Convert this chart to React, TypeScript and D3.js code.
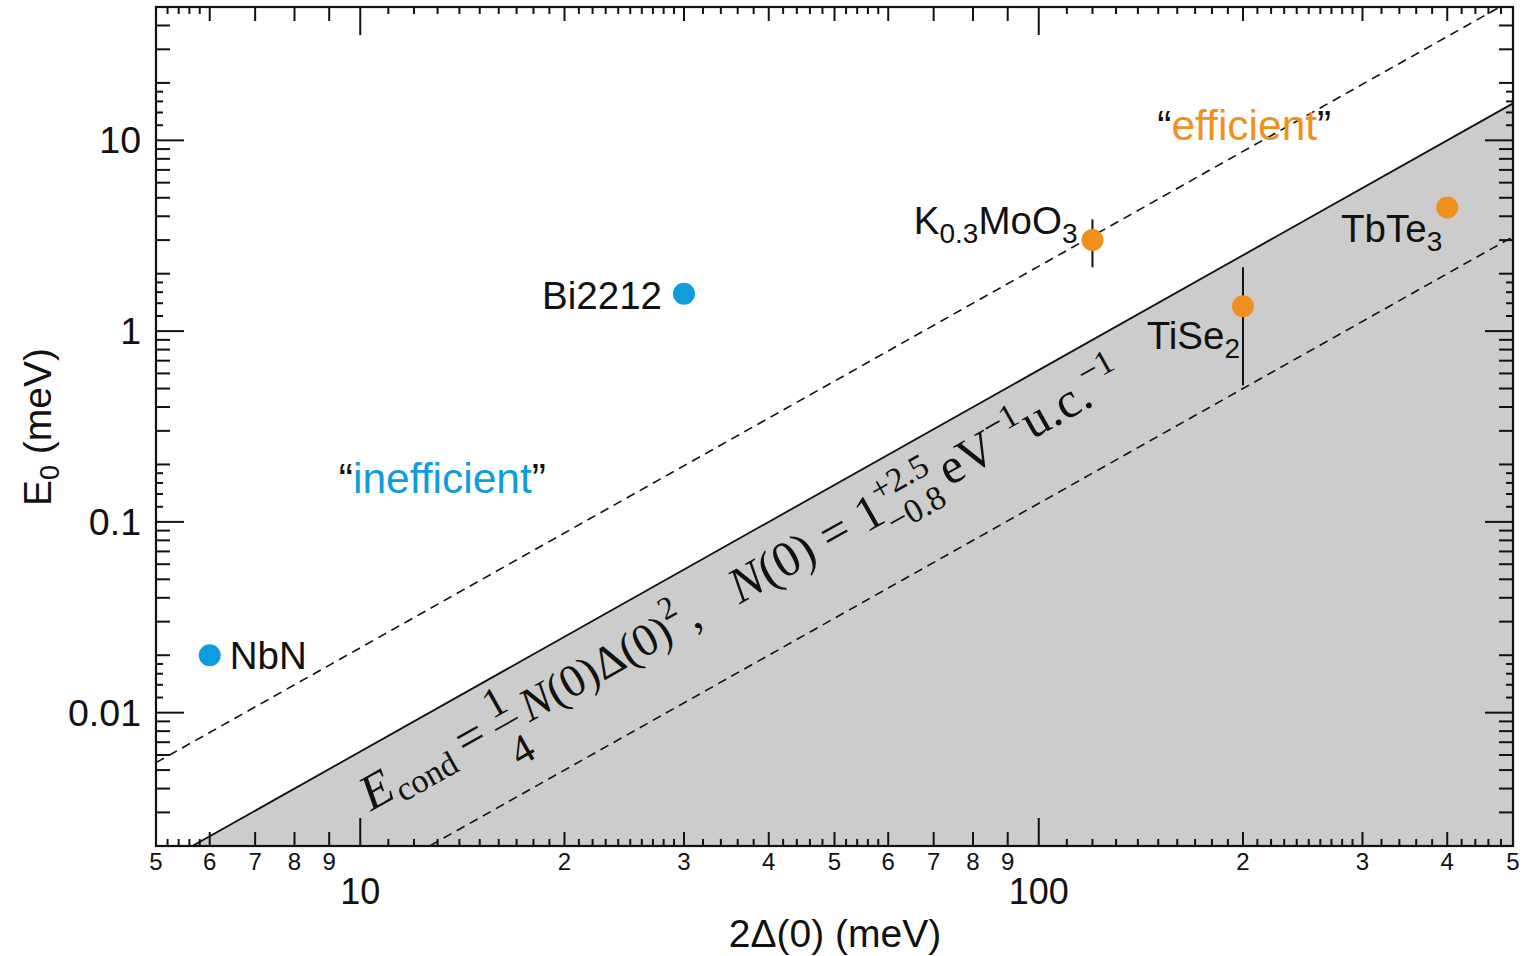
import React from "react";
import * as d3 from "d3";

// ---------------- data ----------------
const materials = ["NbN", "Bi2212", "K0.3MoO3", "TiSe2", "TbTe3"];
const gapValues = [6, 30, 120, 200, 400]; // 2Δ(0) meV
const e0Values = [0.02, 1.57, 3.0, 1.35, 4.45]; // E0 meV
const errLow: (number | null)[] = [null, null, 2.16, 0.52, null];
const errHigh: (number | null)[] = [null, null, 3.85, 2.16, null];
const classes = ["inefficient", "inefficient", "efficient", "efficient", "efficient"];

// N(0) in eV^-1 u.c.^-1 : upper bound, central value, lower bound
const dosValues = [3.5, 1, 0.2];
const dosDashed = [true, false, true];

const xDomain = [5, 500];
const yDomain = [0.002, 50];
const xMajorTicks = [10, 100];
const yMajorTicks = [0.01, 0.1, 1, 10];
const yMajorLabels = ["0.01", "0.1", "1", "10"];
const decades = [0.001, 0.01, 0.1, 1, 10, 100];
const minorMantissa = [2, 3, 4, 5, 6, 7, 8, 9];
const xSubMantissa = [
  1.1, 1.2, 1.3, 1.4, 1.5, 1.6, 1.7, 1.8, 1.9,
  2.1, 2.2, 2.3, 2.4, 2.5, 2.6, 2.7, 2.8, 2.9,
  3.2, 3.4, 3.6, 3.8, 4.2, 4.4, 4.6, 4.8, 5.2, 5.4, 5.6, 5.8,
];
const ySubMantissa = [1.2, 1.4, 1.6, 1.8];

// ---------------- layout ----------------
const W = 1539;
const H = 956;
const L = 156, R = 1513, T = 7, B = 846;
const BLUE = "#0e9cdd";
const ORANGE = "#f0901f";
const SANS = "'Liberation Sans', Arial, Helvetica, sans-serif";
const SERIF = "'Liberation Serif', 'Times New Roman', serif";

const labelLayout = [
  { dx: 20, dy: 14, anchor: "start" },
  { dx: -22, dy: 15, anchor: "end" },
  { dx: -15, dy: -6, anchor: "end" },
  { dx: -3, dy: 43, anchor: "end" },
  { dx: -5, dy: 35, anchor: "end" },
];

const energy = (n0: number, g: number) => (n0 * 1e-3) / 4 * Math.pow(g / 2, 2);

function Label({ name }: { name: string }) {
  const parts: { t: string; sub: boolean }[] = [];
  if (name === "K0.3MoO3") {
    parts.push({ t: "K", sub: false }, { t: "0.3", sub: true }, { t: "MoO", sub: false }, { t: "3", sub: true });
  } else if (name === "TiSe2") {
    parts.push({ t: "TiSe", sub: false }, { t: "2", sub: true });
  } else if (name === "TbTe3") {
    parts.push({ t: "TbTe", sub: false }, { t: "3", sub: true });
  } else {
    parts.push({ t: name, sub: false });
  }
  let prevSub = false;
  return (
    <>
      {parts.map((p, i) => {
        const dy = p.sub === prevSub ? 0 : p.sub ? 9 : -9;
        prevSub = p.sub;
        return (
          <tspan key={i} dy={dy} fontSize={p.sub ? 28 : 38.5}>
            {p.t}
          </tspan>
        );
      })}
    </>
  );
}

export default function App() {
  const x = d3.scaleLog().domain(xDomain).range([L, R]);
  const y = d3.scaleLog().domain(yDomain).range([B, T]);

  const xs = [xDomain[0], xDomain[1]];
  const lineGen = (n0: number) =>
    d3.line<number>().x((g) => x(g)).y((g) => y(energy(n0, g)))(xs) || "";
  const areaPath =
    d3.area<number>().x((g) => x(g)).y0(B).y1((g) => y(energy(1, g)))(xs) || "";

  const xMinor: number[] = [];
  const xSub: number[] = [];
  const yMinor: number[] = [];
  const ySub: number[] = [];
  decades.forEach((d) => {
    minorMantissa.forEach((m) => {
      const v = m * d;
      if (v >= xDomain[0] - 1e-9 && v <= xDomain[1] + 1e-9) xMinor.push(v);
      if (v > yDomain[0] * 1.0001 && v < yDomain[1] * 0.9999) yMinor.push(v);
    });
    xSubMantissa.forEach((m) => {
      const v = m * d;
      if (v > xDomain[0] && v < xDomain[1]) xSub.push(v);
    });
    ySubMantissa.forEach((m) => {
      const v = m * d;
      if (v > yDomain[0] && v < yDomain[1]) ySub.push(v);
    });
  });

  const MAJ = 28, MIN = 14, SUB = 7;
  const tickStroke = { stroke: "#111", strokeWidth: 2 };

  const xTickLines = (vals: number[], len: number) =>
    vals.map((v, i) => (
      <g key={`${len}-${i}`}>
        <line x1={x(v)} x2={x(v)} y1={B} y2={B - len} {...tickStroke} />
        <line x1={x(v)} x2={x(v)} y1={T} y2={T + len} {...tickStroke} />
      </g>
    ));
  const yTickLines = (vals: number[], len: number) =>
    vals.map((v, i) => (
      <g key={`${len}-${i}`}>
        <line x1={L} x2={L + len} y1={y(v)} y2={y(v)} {...tickStroke} />
        <line x1={R} x2={R - len} y1={y(v)} y2={y(v)} {...tickStroke} />
      </g>
    ));

  const angle =
    (Math.atan2(y(energy(1, 500)) - y(energy(1, 5)), x(500) - x(5)) * 180) / Math.PI;
  const fx0 = 10.1;
  const ox = x(fx0);
  const oy = y(energy(1, fx0)) + 66;

  const minorLabelFmt = (v: number) => {
    const m = v / Math.pow(10, Math.floor(Math.log10(v) + 1e-9));
    return String(Math.round(m));
  };

  return (
    <svg
      width={W}
      height={H}
      style={{ position: "absolute", left: 0, top: 0, background: "#fff" }}
      fontFamily={SANS}
    >
      <defs>
        <clipPath id="plotClip">
          <rect x={L} y={T} width={R - L} height={B - T} />
        </clipPath>
      </defs>

      <g clipPath="url(#plotClip)">
        <path d={areaPath} fill="#cccccc" />
        {dosValues.map((n0, i) => (
          <path
            key={i}
            d={lineGen(n0)}
            fill="none"
            stroke="#111"
            strokeWidth={dosDashed[i] ? 1.6 : 1.8}
            strokeDasharray={dosDashed[i] ? "9,6" : undefined}
          />
        ))}
      </g>

      {xTickLines(xMajorTicks, MAJ)}
      {xTickLines(xMinor, MIN)}
      {xTickLines(xSub, SUB)}
      {yTickLines(yMajorTicks, MAJ)}
      {yTickLines(yMinor, MIN)}
      {yTickLines(ySub, SUB)}

      <rect x={L} y={T} width={R - L} height={B - T} fill="none" stroke="#111" strokeWidth={2.2} />

      {xMinor.map((v, i) => (
        <text key={i} x={x(v)} y={870} fontSize={24} textAnchor="middle" fill="#111">
          {minorLabelFmt(v)}
        </text>
      ))}
      {xMajorTicks.map((v, i) => (
        <text key={i} x={x(v)} y={904} fontSize={36} textAnchor="middle" fill="#111">
          {String(v)}
        </text>
      ))}

      {yMajorTicks.map((v, i) => (
        <text key={i} x={141} y={y(v) + 13} fontSize={37.5} textAnchor="end" fill="#111">
          {yMajorLabels[i]}
        </text>
      ))}

      <text x={835} y={947} fontSize={39} textAnchor="middle" fill="#111">
        2Δ(0) (meV)
      </text>
      <text transform={`translate(51,427) rotate(-90)`} fontSize={39} textAnchor="middle" fill="#111">
        E<tspan fontSize={27} dy={8}>0</tspan>
        <tspan dy={-8}> (meV)</tspan>
      </text>

      {gapValues.map((g, i) =>
        errLow[i] != null && errHigh[i] != null ? (
          <line
            key={i}
            x1={x(g)}
            x2={x(g)}
            y1={y(errLow[i] as number)}
            y2={y(errHigh[i] as number)}
            stroke="#111"
            strokeWidth={2}
          />
        ) : null
      )}

      {gapValues.map((g, i) => (
        <circle
          key={i}
          cx={x(g)}
          cy={y(e0Values[i])}
          r={11}
          fill={classes[i] === "efficient" ? ORANGE : BLUE}
        />
      ))}

      {gapValues.map((g, i) => (
        <text
          key={i}
          x={x(g) + labelLayout[i].dx}
          y={y(e0Values[i]) + labelLayout[i].dy}
          textAnchor={labelLayout[i].anchor as any}
          fill="#111"
          fontSize={38.5}
        >
          <Label name={materials[i]} />
        </text>
      ))}

      <text x={x(9.3)} y={y(0.142)} fontSize={42.5} fill="#111">
        “<tspan fill={BLUE}>inefficient</tspan>”
      </text>
      <text x={x(149.5)} y={y(10.1)} fontSize={42.5} fill="#111">
        “<tspan fill={ORANGE}>efficient</tspan>”
      </text>

      {/* formula along the central line */}
      <g transform={`translate(${ox},${oy}) rotate(${angle})`} fontFamily={SERIF} fill="#111">
        <text x={9} y={0} fontSize={50}>
          <tspan fontStyle="italic">E</tspan>
          <tspan fontSize={34} dy={8} dx={2}>cond</tspan>
          <tspan dy={-8} dx={10}>=</tspan>
        </text>
        <text x={170} y={-21} fontSize={42} textAnchor="middle">1</text>
        <line x1={157} x2={183} y1={-10} y2={-10} stroke="#111" strokeWidth={1.7} />
        <text x={171} y={34} fontSize={42} textAnchor="middle">4</text>
        <text x={191} y={0} fontSize={46}>
          <tspan fontStyle="italic">N</tspan>
          <tspan>(0)Δ(0)</tspan>
          <tspan fontSize={32} dy={-22}>2</tspan>
          <tspan dy={22} dx={5}>,</tspan>
        </text>
        <text x={432} y={0} fontSize={50}>
          <tspan fontStyle="italic">N</tspan>
          <tspan>(0) = 1</tspan>
          <tspan fontSize={34} dy={-21}>+2.5</tspan>
          <tspan fontSize={34} dx={-62} dy={36}>−0.8</tspan>
          <tspan dy={-15} dx={9}>eV</tspan>
          <tspan fontSize={34} dy={-21}>−1</tspan>
          <tspan dy={21} dx={1}>u.c.</tspan>
          <tspan fontSize={34} dy={-21}>−1</tspan>
        </text>
      </g>
    </svg>
  );
}
